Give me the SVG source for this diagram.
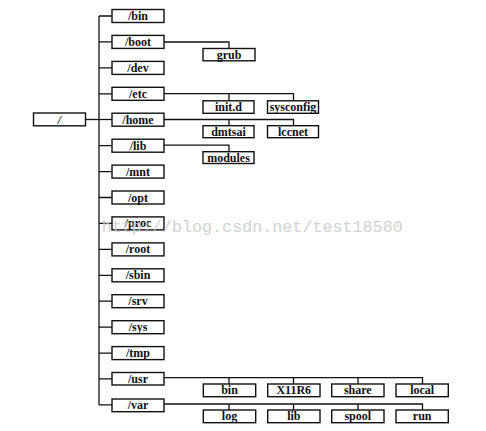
<svg xmlns="http://www.w3.org/2000/svg" width="486" height="431" viewBox="0 0 486 431">
<style>
.b{fill:#fff;stroke:#111;stroke-width:1.4}
.t{font-family:"Liberation Serif","Times New Roman",serif;font-weight:bold;font-size:12px;fill:#111;text-anchor:middle}
.c{fill:none;stroke:#111;stroke-width:1.3}
.w{font-family:"Liberation Mono","DejaVu Sans Mono",monospace;font-size:16.7px;fill:#c8c8c8;opacity:0.8}
</style>
<rect width="486" height="431" fill="#fff"/>
<g id="connectors" class="c">
<path d="M99 16V405"/>
<path d="M86 119.5H112"/>
<path d="M99 16H112M99 41.9H112M99 67.9H112M99 93.8H112M99 145.7H112M99 171.6H112M99 197.5H112M99 223.4H112M99 249.4H112M99 275.3H112M99 301.2H112M99 327.2H112M99 353.1H112M99 378.8H112M99 404.9H112"/>
<path d="M164 42H229V48.5"/>
<path d="M164 93.6H293.5V100.8M229 93.6V100.8"/>
<path d="M164 119.5H293.5V125.7M229 119.5V125.7"/>
<path d="M164 145.2H229V151.7"/>
<path d="M164 377.6H422.5V384M229 377.6V384M293.5 377.6V384M358 377.6V384"/>
<path d="M164 404H422.5V410M229 404V410M293.5 404V410M358 404V410"/>
</g>
<g id="root"><rect class="b" x="33.5" y="113" width="52" height="12.8"/><text class="t" x="59.5" y="123.5" font-style="italic">/</text></g>
<g id="bin"><rect class="b" x="112" y="9.5" width="52" height="13"/><text class="t" x="138" y="20">/bin</text></g>
<g id="boot"><rect class="b" x="112" y="35.4" width="52" height="13"/><text class="t" x="138" y="45.9">/boot</text></g>
<g id="dev"><rect class="b" x="112" y="61.4" width="52" height="13"/><text class="t" x="138" y="71.9">/dev</text></g>
<g id="etc"><rect class="b" x="112" y="87.3" width="52" height="13"/><text class="t" x="138" y="97.8">/etc</text></g>
<g id="home"><rect class="b" x="112" y="113.2" width="52" height="13"/><text class="t" x="138" y="123.7">/home</text></g>
<g id="lib"><rect class="b" x="112" y="139.2" width="52" height="13"/><text class="t" x="138" y="149.7">/lib</text></g>
<g id="mnt"><rect class="b" x="112" y="165.1" width="52" height="13"/><text class="t" x="138" y="175.6">/mnt</text></g>
<g id="opt"><rect class="b" x="112" y="191" width="52" height="13"/><text class="t" x="138" y="201.5">/opt</text></g>
<g id="proc"><rect class="b" x="112" y="216.9" width="52" height="13"/><text class="t" x="138" y="227.4">/proc</text></g>
<g id="rootdir"><rect class="b" x="112" y="242.9" width="52" height="13"/><text class="t" x="138" y="253.4">/root</text></g>
<g id="sbin"><rect class="b" x="112" y="268.8" width="52" height="13"/><text class="t" x="138" y="279.3">/sbin</text></g>
<g id="srv"><rect class="b" x="112" y="294.7" width="52" height="13"/><text class="t" x="138" y="305.2">/srv</text></g>
<g id="sys"><rect class="b" x="112" y="320.7" width="52" height="13"/><text class="t" x="138" y="331.2">/sys</text></g>
<g id="tmp"><rect class="b" x="112" y="346.6" width="52" height="13"/><text class="t" x="138" y="357.1">/tmp</text></g>
<g id="usr"><rect class="b" x="112" y="372.5" width="52" height="12.5"/><text class="t" x="138" y="382.6">/usr</text></g>
<g id="var"><rect class="b" x="112" y="399" width="52" height="12.7"/><text class="t" x="138" y="409.4">/var</text></g>
<g id="grub"><rect class="b" x="203" y="48.5" width="52" height="12.3"/><text class="t" x="229" y="58.6">grub</text></g>
<g id="initd"><rect class="b" x="203" y="100.8" width="51" height="12.5"/><text class="t" x="228.5" y="111">init.d</text></g>
<g id="sysconfig"><rect class="b" x="267.5" y="100.8" width="51" height="12.5"/><text class="t" x="293" y="111">sysconfig</text></g>
<g id="dmtsai"><rect class="b" x="203" y="125.7" width="51" height="12"/><text class="t" x="228.5" y="135.7">dmtsai</text></g>
<g id="lccnet"><rect class="b" x="267.5" y="125.7" width="51" height="12"/><text class="t" x="293" y="135.7">lccnet</text></g>
<g id="modules"><rect class="b" x="203" y="151.7" width="51" height="11.8"/><text class="t" x="228.5" y="161.6">modules</text></g>
<g id="usr-bin"><rect class="b" x="203.3" y="384" width="52.4" height="12.7"/><text class="t" x="229.5" y="394.4">bin</text></g>
<g id="usr-x11r6"><rect class="b" x="267.7" y="384" width="52.3" height="12.7"/><text class="t" x="293.8" y="394.4">X11R6</text></g>
<g id="usr-share"><rect class="b" x="331.7" y="384" width="52.3" height="12.7"/><text class="t" x="357.8" y="394.4">share</text></g>
<g id="usr-local"><rect class="b" x="396" y="384" width="52.3" height="12.7"/><text class="t" x="422.2" y="394.4">local</text></g>
<g id="var-log"><rect class="b" x="203.3" y="410" width="52.4" height="12.7"/><text class="t" x="229.5" y="420.4">log</text></g>
<g id="var-lib"><rect class="b" x="267.7" y="410" width="52.3" height="12.7"/><text class="t" x="293.8" y="420.4">lib</text></g>
<g id="var-spool"><rect class="b" x="331.7" y="410" width="52.3" height="12.7"/><text class="t" x="357.8" y="420.4">spool</text></g>
<g id="var-run"><rect class="b" x="396" y="410" width="52.3" height="12.7"/><text class="t" x="422.2" y="420.4">run</text></g>
<text class="w" x="101.7" y="231.5" textLength="301">http://blog.csdn.net/test18580</text>
</svg>
